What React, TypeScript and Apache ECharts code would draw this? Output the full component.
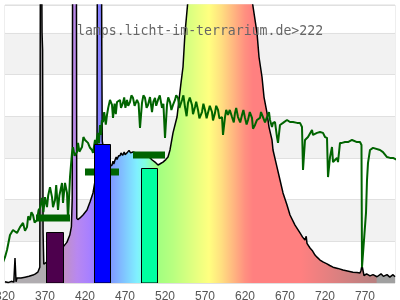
import React, { useEffect, useRef } from 'react';
import * as echarts from 'echarts';

// ---- data ----
const titleText = 'lamps.licht-im-terrarium.de>222';
const xMin = 320;
const xMax = 807.5;
const xStep = 50;
const yMax = 6.667;

// lamp spectrum (black curve, rainbow fill)
const spectrumNm = [
  320, 324, 328, 331, 332.5, 333.8, 335, 340, 345, 350, 355, 358, 361, 363.5, 364.3, 365.6, 366.3, 367, 367.6, 368.5,
  372, 380, 388, 392.5, 395, 397.5, 401, 403, 404, 404.6, 407, 409.2, 409.7, 411, 413.75, 417.5, 422.5, 426.25, 430,
  433, 435, 435.5, 438, 440.5, 441, 441.6, 445, 448, 451.25, 453.75, 455, 456, 457.5, 459, 460, 462, 463.75, 465, 467,
  469, 470, 472.5, 475, 477, 480, 484, 488.75, 493, 498.75, 501.25, 504, 507.5, 511.25, 514, 517.5, 521, 523.75,
  526.25, 530, 535, 537.5, 540, 542.5, 545, 548.75, 555, 565, 575, 585, 595, 605, 615, 628.75, 635, 637.5, 641.25,
  643.75, 647.5, 650, 653.75, 655, 660, 663.75, 667.5, 672.5, 676.25, 682.5, 688.75, 692, 695, 696.5, 697.5, 701.25,
  704, 707.5, 710, 713.75, 718, 722.5, 726, 730, 736, 742.5, 748, 755, 760, 763.75, 765, 766.25, 767.5, 768.75, 772,
  776.25, 780, 785, 790, 793, 797.5, 801, 805, 807.5,
];
const spectrumVal = [
  0.03, 0.01, 0.04, 0.02, 0.6, 0.03, 0.12, 0.12, 0.14, 0.16, 0.19, 0.22, 0.26, 0.38, 8.5, 8.5, 6.0, 5.6, 1.2, 0.45,
  0.5, 0.6, 0.75, 0.86, 0.92, 0.98, 1.15, 1.35, 2.0, 8.5, 11, 8.5, 1.55, 1.52, 1.56, 1.63, 1.75, 1.94, 2.16,
  2.5, 3.3, 8.5, 11, 8.5, 5.6, 3.4, 3.0, 2.9, 2.8, 2.83, 2.92, 2.85, 2.95, 3.02, 2.96, 3.05, 3.05, 3.12, 3.06,
  3.14, 3.08, 3.12, 3.18, 3.12, 3.14, 3.12, 3.09, 3.08, 3.07, 3.0, 2.95, 2.9, 2.83, 2.86, 2.9, 2.96, 3.02,
  3.19, 3.6, 3.98, 4.39, 4.8, 5.18, 6.0, 6.79, 7.8, 9.2, 10.2, 10.6, 10.4, 9.6, 8.5, 6.79, 6.0, 5.42, 4.94,
  4.46, 4.08, 3.74, 3.43, 3.19, 2.78, 2.47, 2.16, 1.87, 1.63, 1.39, 1.2, 1.1, 1.03, 1.12, 0.95, 0.84,
  0.78, 0.67, 0.62, 0.55, 0.5, 0.46, 0.42, 0.38, 0.35, 0.31, 0.29, 0.26, 0.25, 0.24, 0.3, 0.42, 0.3, 0.18, 0.22,
  0.17, 0.2, 0.15, 0.22, 0.16, 0.2, 0.14, 0.2, 0.15,
];

// reference spectrum (green noisy curve): [wavelength nm, value]
const referencePoints = [
  [313.75, 0.31], [320, 0.62], [322.5, 0.79], [326.25, 1.15], [330, 1.27], [335, 1.2], [338.75, 1.34], [342.5, 1.44],
  [345, 1.25], [347.5, 1.34], [349, 1.6], [351.25, 1.51], [353, 1.7], [355, 1.63], [357, 1.45], [360, 1.51],
  [362, 1.75], [363.75, 1.8], [366.25, 2.04], [368, 1.7], [370, 2.06], [372.5, 1.82], [374, 2.1], [376.25, 2.3],
  [378.75, 2.06], [380, 1.82], [382.5, 1.99], [384, 2.35], [386.25, 1.75], [388, 2.1], [391.25, 2.4], [392.5, 1.92],
  [395, 2.4], [397.5, 2.16], [398.75, 1.51], [401.25, 2.54], [403.75, 3.12], [405, 3.26], [407, 3.05], [410, 3.14],
  [411.25, 3.36], [413, 3.15], [416.25, 3.26], [418, 3.5], [420, 3.43], [423.75, 3.36], [426, 3.25], [428.75, 3.19],
  [430, 3.12], [432.5, 3.43], [433.75, 3.24], [435, 3.5], [436.25, 3.6], [437.5, 3.35], [438.75, 3.79], [440, 3.55],
  [441, 3.9], [442.5, 3.86], [444, 4.1], [446, 3.8], [447.5, 4.03], [449, 4.2], [451.25, 4.39], [453.75, 4.27],
  [455, 3.96], [457, 4.3], [458.5, 4.05], [460, 4.34], [463.75, 4.39], [465, 4.2], [467.5, 4.32], [469, 4.45],
  [470.5, 4.2], [472.5, 4.39], [474, 4.25], [476.25, 4.34], [478, 4.5], [480, 4.44], [482, 4.25], [485, 4.39],
  [487, 4.3], [488.75, 3.72], [491.25, 4.32], [493, 4.5], [495, 4.44], [497, 4.2], [498.75, 4.27], [501.25, 4.46],
  [503.75, 4.1], [505.5, 4.35], [507.5, 4.44], [509, 4.25], [511.25, 4.39], [513.5, 4.5], [516.25, 4.2], [518, 4.3],
  [520, 3.48], [522.5, 4.27], [524, 4.45], [526.25, 4.34], [528, 4.15], [530, 4.27], [532.5, 4.39], [534, 4.5],
  [536.25, 4.44], [538, 4.2], [541.25, 4.39], [543, 4.5], [545, 4.22], [547, 4.0], [548.75, 4.32], [551, 4.45],
  [553.75, 4.27], [555, 4.05], [557.5, 4.22], [559, 4.35], [561.25, 4.15], [563, 3.95], [566.25, 4.1], [568, 4.3],
  [570, 4.15], [572, 3.95], [573.75, 4.08], [576, 4.25], [578.75, 4.1], [580, 3.9], [582.5, 4.08], [584, 4.25],
  [586.25, 4.15], [588, 3.95], [591.25, 3.98], [592.5, 3.55], [595, 3.98], [596.5, 4.15], [598.75, 4.03], [601, 4.15],
  [603.75, 3.98], [606, 3.85], [607.5, 4.08], [609, 4.2], [611.25, 3.98], [614, 3.85], [616.25, 4.03], [618, 4.15],
  [620, 3.96], [622, 3.8], [623.75, 3.91], [626, 4.1], [628.75, 3.96], [630, 3.7], [632.5, 3.79], [635, 3.91],
  [638.75, 3.96], [640, 4.1], [642.5, 3.98], [645, 3.85], [647.5, 3.98], [650, 4.1], [651.25, 3.91], [653.75, 3.74],
  [655, 3.84], [657.5, 3.86], [660, 3.5], [661.25, 3.36], [663.75, 3.79], [667.5, 3.84], [672.5, 3.91], [676.25, 3.86],
  [680, 3.86], [685, 3.84], [688.75, 3.84], [691.25, 3.74], [692.5, 2.71], [695, 3.43], [698.75, 3.5], [703.75, 3.67],
  [705, 3.55], [710, 3.6], [713.75, 3.62], [717.5, 3.6], [720, 3.5], [722.5, 3.48], [723.75, 2.54], [726.25, 3.02],
  [728.75, 3.26], [730, 2.9], [732.5, 2.95], [735, 3.0], [736.25, 2.9], [738.75, 3.36], [741.25, 3.36], [745, 3.38],
  [748.75, 3.38], [753.75, 3.43], [760, 3.38], [763.75, 3.38], [765.6, 3.31], [766.25, 0.38], [768.75, 1.03],
  [771.25, 1.68], [772.5, 2.47], [773.75, 2.88], [776.25, 3.19], [780, 3.24], [788.75, 3.19], [792.5, 3.14],
  [797.5, 3.02], [801.25, 3.0], [805, 3.0], [810, 2.95],
];

// colour bands (rectangles)
const bandStart = [371, 431, 490.5];
const bandEnd = [392, 451.5, 510.5];
const bandValue = [1.22, 3.33, 2.76];

// thick dark green markers
const markStart = [359, 420, 480.5];
const markEnd = [401, 462.5, 521];
const markValue = [1.55, 2.67, 3.06];

// ---- styles ----
const bandColors = ['#4d004d', '#0000ff', '#00ffa0'];
const gradNm = [320, 370, 380, 395, 410, 425, 440, 455, 470, 485, 495, 510, 530, 550, 565, 575, 590, 605, 620, 630, 690, 720, 760, 784, 785, 807.5];
const gradColor = [
  '#b0acb0', '#b0acb0', '#b8a0b8', '#c090c8', '#b888f0', '#a880ff', '#8080ff', '#80a0ff', '#80c8ff', '#80f0ff',
  '#80ffe0', '#a0ff80', '#b8ff80', '#d8ff80', '#f0ff80', '#ffff80', '#ffe080', '#ffb880', '#ff9080', '#ff8080',
  '#ff8080', '#e88080', '#c88080', '#b88080', '#a0a0a0', '#a0a0a0',
];

export default function App() {
  const ref = useRef<HTMLDivElement>(null);
  useEffect(() => {
    if (!ref.current) return;
    const chart = echarts.init(ref.current, null, { renderer: 'svg' });
    const gridLeft = 5;
    const gridRight = 5;
    const plotW = 400 - gridLeft - gridRight;
    const gradient = new echarts.graphic.LinearGradient(
      gridLeft, 0, gridLeft + plotW, 0,
      gradNm.map((nm, i) => ({ offset: (nm - xMin) / (xMax - xMin), color: gradColor[i] })),
      true
    );
    const bandData = bandStart.map((s, i) => [s, bandEnd[i], bandValue[i]]);
    const markData = markStart.map((s, i) => [s, markEnd[i], markValue[i]]);

    chart.setOption({
      animation: false,
      grid: {
        left: gridLeft, right: gridRight, top: 5, bottom: 17, show: true,
        borderColor: '#dddddd', borderWidth: 1, containLabel: false, outerBoundsMode: 'none',
      },
      xAxis: {
        type: 'value', min: xMin, max: xMax, interval: xStep,
        axisLine: { show: false }, axisTick: { show: false }, splitLine: { show: false },
        axisLabel: {
          color: '#555', fontSize: 12, fontFamily: 'Liberation Sans, Arial, sans-serif', margin: 7,
          showMaxLabel: false, hideOverlap: false,
          formatter: (v: number) => ((v - xMin) % xStep === 0 ? String(v) : ''),
        },
      },
      yAxis: {
        type: 'value', min: 0, max: yMax, interval: 1,
        axisLine: { show: false }, axisTick: { show: false }, axisLabel: { show: false },
        splitLine: { show: true, lineStyle: { color: '#e0e0e0', width: 1 } },
        splitArea: { show: true, areaStyle: { color: ['#ffffff', '#f2f2f2'] } },
      },
      series: [
        {
          type: 'line', data: spectrumNm.map((n, i) => [n, spectrumVal[i]]),
          showSymbol: false, z: 2, clip: true,
          lineStyle: { color: '#000', width: 1.5 },
          areaStyle: { color: gradient, opacity: 1 },
        },
        {
          type: 'line', data: referencePoints,
          showSymbol: false, z: 3, clip: false,
          lineStyle: { color: '#006400', width: 2 },
        },
        {
          type: 'custom', data: markData, z: 4, clip: true,
          encode: { x: [0, 1], y: 2 },
          renderItem: (params: any, api: any) => {
            const p0 = api.coord([api.value(0), api.value(2)]);
            const p1 = api.coord([api.value(1), api.value(2)]);
            return {
              type: 'rect',
              shape: { x: Math.round(p0[0]), y: Math.round(p0[1]) - 3.5, width: Math.round(p1[0] - p0[0]), height: 7 },
              style: { fill: '#006400' },
            };
          },
        },
        {
          type: 'custom', data: bandData, z: 5, clip: true,
          encode: { x: [0, 1], y: 2 },
          renderItem: (params: any, api: any) => {
            const p0 = api.coord([api.value(0), 0]);
            const p1 = api.coord([api.value(1), api.value(2)]);
            const x0 = Math.round(p0[0]) + 0.5;
            const x1 = Math.round(p1[0]) + 0.5;
            const y1 = Math.round(p1[1]) + 0.5;
            return {
              type: 'rect',
              shape: { x: x0, y: y1, width: x1 - x0, height: p0[1] - y1 },
              style: { fill: bandColors[params.dataIndex], stroke: '#000', lineWidth: 1 },
            };
          },
        },
      ],
      graphic: [
        {
          type: 'text', left: 77, top: 24, z: 100,
          style: { text: titleText, fontFamily: 'DejaVu Sans Mono, monospace', fontSize: 13.2, fill: '#666' },
        },
      ],
    });
    return () => chart.dispose();
  }, []);
  return <div ref={ref} style={{ position: 'fixed', left: 0, top: 0, width: 400, height: 300 }} />;
}
